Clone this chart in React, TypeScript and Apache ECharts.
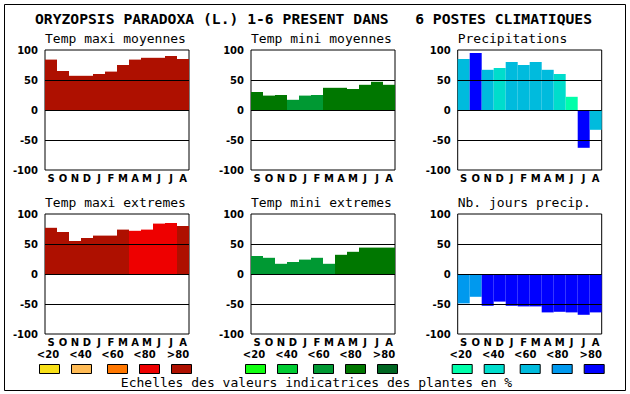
import React, { useEffect, useRef } from "react";
import * as echarts from "echarts";

const months = ["S", "O", "N", "D", "J", "F", "M", "A", "M", "J", "J", "A"];
const yTicks = [-100, -50, 0, 50, 100];

const tmaxMoy = [84, 65, 57, 57, 60, 64, 75, 84, 87, 87, 90, 85];
const tmaxMoyCls = [5, 5, 5, 5, 5, 5, 5, 5, 5, 5, 5, 5];
const tminMoy = [30, 24, 25, 17, 24, 25, 37, 37, 35, 42, 47, 42];
const tminMoyCls = [4, 4, 4, 3, 3, 3, 4, 4, 4, 4, 4, 4];
const precip = [85, 95, 67, 70, 80, 75, 80, 67, 60, 22, -63, -33];
const precipCls = [3, 5, 3, 2, 3, 3, 3, 3, 2, 1, 5, 3];
const tmaxExt = [77, 70, 55, 60, 64, 64, 74, 72, 74, 84, 85, 80];
const tmaxExtCls = [5, 5, 5, 5, 5, 5, 5, 4, 4, 4, 4, 5];
const tminExt = [30, 27, 17, 20, 24, 27, 17, 32, 37, 44, 44, 44];
const tminExtCls = [3, 3, 3, 3, 3, 3, 3, 4, 4, 4, 4, 4];
const nbJours = [-49, -38, -53, -46, -53, -54, -54, -64, -63, -64, -68, -64];
const nbJoursCls = [4, 4, 5, 5, 5, 5, 5, 5, 5, 5, 5, 5];

const reds = ["#F8E018", "#FFBB55", "#FF7700", "#EE0000", "#AE1000"];
const greens = ["#11FF11", "#00CC33", "#009933", "#007700", "#006622"];
const blues = ["#00FFAA", "#00DDCC", "#00BBDD", "#0099EE", "#0000FF"];
const legendLabels = ["<20", "<40", "<60", "<80", ">80"];

const mainTitle = "ORYZOPSIS PARADOXA (L.) 1-6 PRESENT DANS   6 POSTES CLIMATIQUES";
const caption = "Echelles des valeurs indicatrices des plantes en %";

const panels = [
  { title: "Temp maxi moyennes", values: tmaxMoy, cls: tmaxMoyCls, pal: reds },
  { title: "Temp mini moyennes", values: tminMoy, cls: tminMoyCls, pal: greens },
  { title: "Precipitations", values: precip, cls: precipCls, pal: blues },
  { title: "Temp maxi extremes", values: tmaxExt, cls: tmaxExtCls, pal: reds },
  { title: "Temp mini extremes", values: tminExt, cls: tminExtCls, pal: greens },
  { title: "Nb. jours precip.", values: nbJours, cls: nbJoursCls, pal: blues },
];

const colLefts = [45, 251, 457.7];
const rowTops = [50, 214];
const plotW = 144;
const plotH = 120;

const boxOffsets = [-6, 26, 62, 94, 126];
const labelOffsets = [3, 35.5, 67.5, 99.5, 133];

export default function App() {
  const ref = useRef<HTMLDivElement>(null);
  useEffect(() => {
    if (!ref.current) return;
    const chart = echarts.init(ref.current, null, { renderer: "svg" });
    const grids: any[] = [];
    const xAxes: any[] = [];
    const yAxes: any[] = [];
    const series: any[] = [];
    const graphics: any[] = [];
    const tickFont = { fontFamily: "DejaVu Sans", fontWeight: "bold", fontSize: 10, color: "#000" };

    graphics.push({
      type: "rect",
      shape: { x: 4.5, y: 4.5, width: 621, height: 386 },
      style: { fill: "none", stroke: "#000", lineWidth: 1 },
      silent: true,
    });
    graphics.push({
      type: "text",
      x: 313.5,
      y: 18.5,
      style: {
        text: mainTitle,
        font: "bold 14.7px 'DejaVu Sans Mono'",
        fill: "#000",
        textAlign: "center",
        textVerticalAlign: "middle",
      },
    });
    graphics.push({
      type: "text",
      x: 316.5,
      y: 382,
      style: {
        text: caption,
        font: "13px 'DejaVu Sans Mono'",
        fill: "#000",
        textAlign: "center",
        textVerticalAlign: "middle",
      },
    });

    panels.forEach((p, i) => {
      const col = i % 3;
      const row = Math.floor(i / 3);
      const left = colLefts[col];
      const top = rowTops[row];
      grids.push({
        left,
        top,
        width: plotW,
        height: plotH,
        show: true,
        borderColor: "#000",
        borderWidth: 1,
        backgroundColor: "transparent",
      });
      xAxes.push({
        type: "category",
        gridIndex: i,
        data: months,
        axisLine: { show: false },
        axisTick: { show: false },
        axisLabel: { interval: 0, margin: 3, ...tickFont },
      });
      yAxes.push({
        type: "value",
        gridIndex: i,
        min: yTicks[0],
        max: yTicks[yTicks.length - 1],
        interval: 50,
        axisLine: { show: false },
        axisTick: { show: false },
        splitLine: { show: false },
        axisLabel: { margin: 7, ...tickFont },
      });
      series.push({
        type: "bar",
        xAxisIndex: i,
        yAxisIndex: i,
        barWidth: "100%",
        barCategoryGap: 0,
        data: p.values.map((v, k) => ({ value: v, itemStyle: { color: p.pal[p.cls[k] - 1] } })),
        markLine: {
          silent: true,
          symbol: ["none", "none"],
          label: { show: false },
          lineStyle: { color: "#000", width: 1, type: "solid" },
          data: [{ yAxis: 50 }, { yAxis: 0 }, { yAxis: -50 }],
        },
      });
      graphics.push({
        type: "text",
        x: left,
        y: top - 11.5,
        style: {
          text: p.title,
          font: "13px 'DejaVu Sans Mono'",
          fill: "#000",
          textAlign: "left",
          textVerticalAlign: "middle",
        },
      });
    });

    colLefts.forEach((left, c) => {
      const pal = [reds, greens, blues][c];
      pal.forEach((color, k) => {
        graphics.push({
          type: "rect",
          shape: { x: left + boxOffsets[k] + 0.5, y: 364.5, width: 20, height: 9 },
          style: { fill: color, stroke: "#000", lineWidth: 1 },
          silent: true,
        });
        graphics.push({
          type: "text",
          x: left + labelOffsets[k],
          y: 354,
          style: {
            text: legendLabels[k],
            font: "bold 10px 'DejaVu Sans'",
            fill: "#000",
            textAlign: "center",
            textVerticalAlign: "middle",
          },
        });
      });
    });

    chart.setOption({
      animation: false,
      backgroundColor: "#fff",
      grid: grids,
      xAxis: xAxes,
      yAxis: yAxes,
      series,
      graphic: graphics,
    });
    return () => chart.dispose();
  }, []);
  return (
    <div
      ref={ref}
      style={{ position: "fixed", left: 0, top: 0, width: 630, height: 394, background: "#fff" }}
    />
  );
}
